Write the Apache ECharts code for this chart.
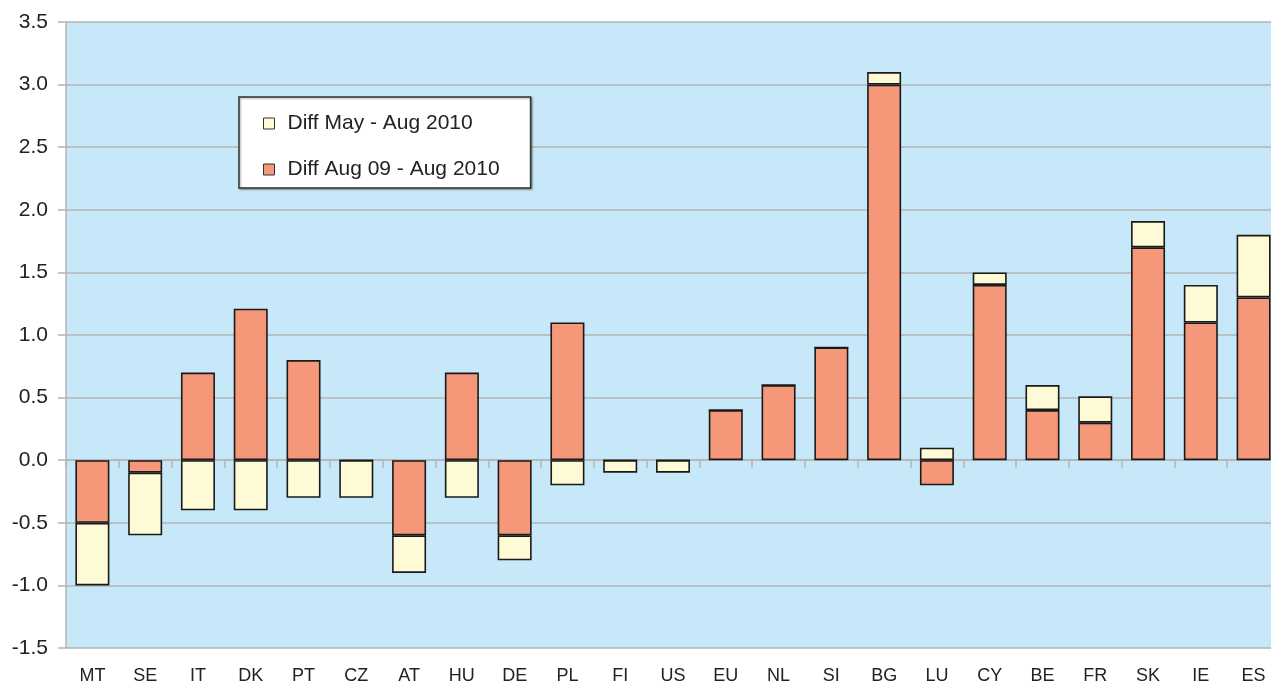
<!DOCTYPE html>
<html>
<head>
<meta charset="utf-8">
<script src="https://cdn.jsdelivr.net/npm/echarts@6/dist/echarts.min.js"></script>
<style>
  html, body { margin: 0; padding: 0; background: #fff; }
  #chart { width: 1271px; height: 682px; }
</style>
</head>
<body>
<div id="chart"></div>
<script>
const countries = ['MT', 'SE', 'IT', 'DK', 'PT', 'CZ', 'AT', 'HU', 'DE', 'PL', 'FI', 'US',
  'EU', 'NL', 'SI', 'BG', 'LU', 'CY', 'BE', 'FR', 'SK', 'IE', 'ES']
// Diff Aug 09 - Aug 2010 (salmon, bottom of stack)
const diffYear = [-0.5, -0.1, 0.7, 1.21, 0.8, 0, -0.6, 0.7, -0.6, 1.1, 0, 0,
  0.4, 0.6, 0.9, 3.0, -0.2, 1.4, 0.4, 0.3, 1.7, 1.1, 1.3]
// Diff May - Aug 2010 (light yellow, stacked on top)
const diffMay = [-0.5, -0.5, -0.4, -0.4, -0.3, -0.3, -0.3, -0.3, -0.2, -0.2, -0.1, -0.1,
  0, 0, 0, 0.1, 0.1, 0.1, 0.2, 0.21, 0.21, 0.3, 0.5]

const myChart = echarts.init(document.getElementById('chart'))
const labelFont = 'Liberation Sans, Arial, sans-serif'

myChart.setOption({
  animation: false,
  grid: {
    left: 66,
    right: -9,
    top: 22,
    bottom: 34,
    outerBoundsMode: 'none',
    show: true,
    backgroundColor: '#c6e8f8',
    borderWidth: 0
  },
  legend: {
    data: ['Diff May - Aug 2010', 'Diff Aug 09 - Aug 2010'],
    orient: 'vertical',
    left: 239,
    top: 97,
    padding: [16, 31, 8, 24],
    itemGap: 25,
    itemWidth: 11,
    itemHeight: 11,
    icon: 'rect',
    backgroundColor: '#fff',
    borderColor: '#333',
    borderWidth: 1.5,
    borderRadius: 0,
    shadowColor: 'rgba(0,0,0,0.35)',
    shadowBlur: 2,
    shadowOffsetX: 1,
    shadowOffsetY: 1,
    itemStyle: {
      borderColor: '#333',
      borderWidth: 1
    },
    textStyle: {
      fontFamily: labelFont,
      fontSize: 21,
      color: '#222',
      lineHeight: 20,
      padding: [0, 0, 0, 8]
    }
  },
  xAxis: [
    {
      type: 'category',
      data: countries,
      axisLine: { show: false, onZero: false },
      axisTick: { show: false },
      axisLabel: {
        fontFamily: labelFont,
        fontSize: 18,
        color: '#222',
        margin: 19
      }
    },
    {
      // zero line with the little category ticks
      type: 'category',
      data: countries,
      position: 'bottom',
      axisLine: { show: true, onZero: true, lineStyle: { color: '#b5b5b5', width: 1.5 } },
      axisTick: { show: true, length: 8, lineStyle: { color: '#b5b5b5', width: 1.5 } },
      axisLabel: { show: false },
      splitLine: { show: false }
    }
  ],
  yAxis: {
    type: 'value',
    min: -1.5,
    max: 3.5,
    interval: 0.5,
    axisLine: { show: true, lineStyle: { color: '#b5b5b5', width: 1.5 } },
    axisTick: { show: true, length: 8, lineStyle: { color: '#b5b5b5', width: 1.5 } },
    axisLabel: {
      fontFamily: labelFont,
      fontSize: 21,
      color: '#222',
      margin: 18,
      padding: [6, 0, 0, 0],
      formatter: (v) => v.toFixed(1)
    },
    splitLine: { show: true, lineStyle: { color: '#b5b5b5', width: 1.5 } }
  },
  series: [
    {
      name: 'Diff Aug 09 - Aug 2010',
      type: 'bar',
      stack: 'diff',
      barWidth: 34,
      data: diffYear,
      itemStyle: { color: '#f59779', borderColor: '#1a1a1a', borderWidth: 1.6 }
    },
    {
      name: 'Diff May - Aug 2010',
      type: 'bar',
      stack: 'diff',
      barWidth: 34,
      data: diffMay,
      itemStyle: { color: '#fffad6', borderColor: '#1a1a1a', borderWidth: 1.6 }
    }
  ]
})

window.addEventListener('resize', () => {
  myChart.resize()
})
</script>
</body>
</html>
